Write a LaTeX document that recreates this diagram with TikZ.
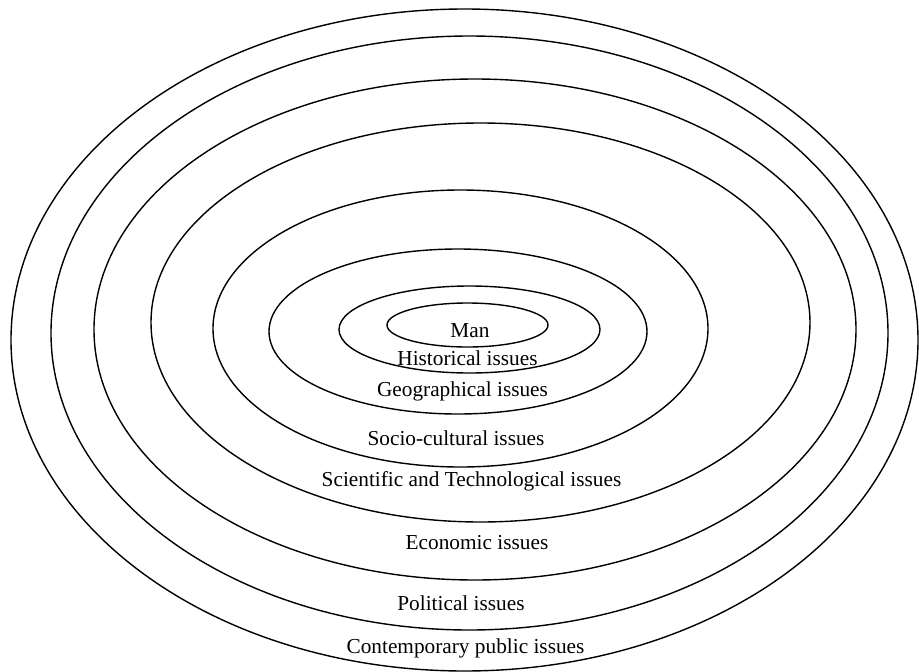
\documentclass[tikz,border=0pt]{standalone}
\usepackage{fontspec}
\setmainfont{Liberation Serif}
\begin{document}
\begin{tikzpicture}[x=1pt,y=-1pt,
  ring/.style={draw=black,line width=1.4pt},
  lbl/.style={inner sep=0pt,font=\fontsize{21.3}{25}\selectfont,text height=14pt,text depth=4.5pt}]
\useasboundingbox (0,0) rectangle (919,672);
% rings, outermost to innermost
\draw[ring] (464.5,340) ellipse [x radius=453.5,y radius=331];
\draw[ring] (469.5,333) ellipse [x radius=418.5,y radius=297];
\draw[ring] (475,329.5) ellipse [x radius=381,y radius=250.5];
\draw[ring] (480.5,322.5) ellipse [x radius=329.5,y radius=199.5];
\draw[ring] (460.5,328.5) ellipse [x radius=247.5,y radius=138.5];
\draw[ring] (458,331.5) ellipse [x radius=189,y radius=82.5];
\draw[ring] (469.5,329.5) ellipse [x radius=130.5,y radius=43.5];
\draw[ring] (467.5,325) ellipse [x radius=80.5,y radius=22];
% labels
\node[lbl] (man) at (470,332.5) {Man};
\node[lbl] (hist) at (467.5,360.5) {Historical issues};
\node[lbl] (geo) at (462.5,391.5) {Geographical issues};
\node[lbl] (soc) at (456,440.5) {Socio-cultural issues};
\node[lbl] (sci) at (471.5,481.5) {Scientific and Technological issues};
\node[lbl] (eco) at (477,544.5) {Economic issues};
\node[lbl] (pol) at (461,605.5) {Political issues};
\node[lbl] (con) at (465.5,648.5) {Contemporary public issues};
\end{tikzpicture}
\end{document}
